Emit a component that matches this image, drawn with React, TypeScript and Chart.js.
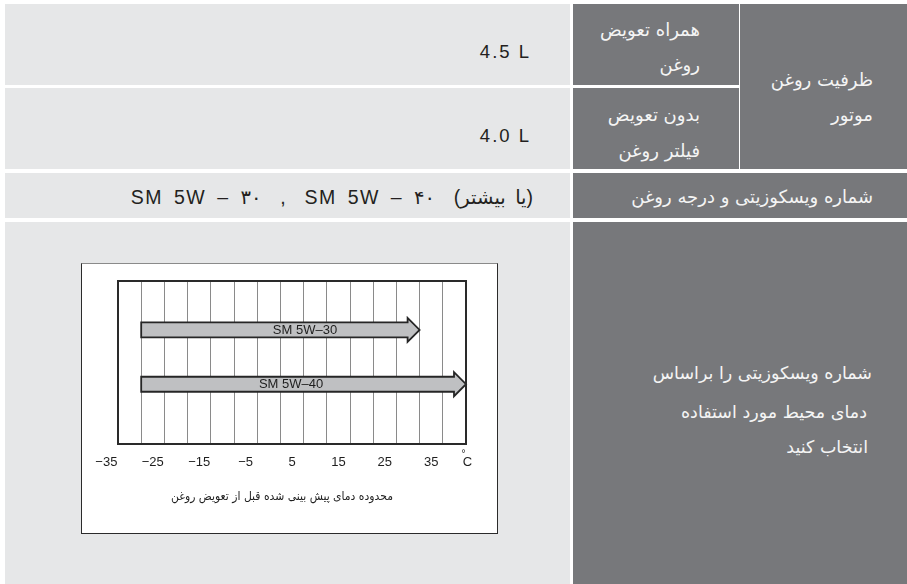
import React, { useEffect, useRef } from "react";
import { Chart, registerables } from "chart.js";

Chart.register(...registerables);

// ---- chart data ----
const grades: string[] = ["SM 5W–30", "SM 5W–40"];
const startTemp: number[] = [-27.5, -27.5];
const endTemp: number[] = [32.5, 42.5];
const rowPos: number[] = [0.26, 0.66];
const labelTemp: number[] = [7.8, 4.8];
const gridTemps: number[] = [-27.5, -22.5, -17.5, -12.5, -7.5, -2.5, 2.5, 7.5, 12.5, 17.5, 22.5, 27.5, 32.5, 37.5];
const tickTemps: number[] = [-35, -25, -15, -5, 5, 15, 25, 35];
const tickLabels: string[] = ["−35", "−25", "−15", "−5", "5", "15", "25", "35"];
const unitTemp = 42.5;
const axisMin = -32.5;
const axisMax = 42.5;
const caption = "محدوده دمای پیش بینی شده قبل از تعویض روغن";

// ---- table text ----
const capacityWith = "4.5 L";
const capacityWithout = "4.0 L";
const gradeText = "SM 5W – ۳۰  ,  SM 5W – ۴۰  (یا بیشتر)";

const LIGHT = "#e6e7e8";
const DARK = "#77787b";
const PERSIAN = '"DejaVu Sans", sans-serif';
const LATIN = '"Liberation Sans", Arial, "DejaVu Sans", sans-serif';

const arrowPlugin = {
  id: "arrows",
  afterDatasetsDraw(chart: any) {
    const ctx = chart.ctx;
    const meta = chart.getDatasetMeta(0);
    const xs = chart.scales.x;
    ctx.save();
    meta.data.forEach((el: any, i: number) => {
      const { x, y, base, height } = el.getProps(["x", "y", "base", "height"], true);
      const left = Math.min(x, base);
      const tip = Math.max(x, base);
      const hh = height / 2;
      const headLen = 12;
      const headHalf = hh + 4.5;
      const hb = tip - headLen;
      ctx.beginPath();
      ctx.moveTo(left, y - hh);
      ctx.lineTo(hb, y - hh);
      ctx.lineTo(hb, y - headHalf);
      ctx.lineTo(tip, y);
      ctx.lineTo(hb, y + headHalf);
      ctx.lineTo(hb, y + hh);
      ctx.lineTo(left, y + hh);
      ctx.closePath();
      ctx.fillStyle = "#bfc0c2";
      ctx.fill();
      ctx.lineWidth = 1.8;
      ctx.strokeStyle = "#262626";
      ctx.lineJoin = "miter";
      ctx.stroke();
      ctx.fillStyle = "#1e1e1e";
      ctx.font = '13px "Liberation Sans", Arial, sans-serif';
      ctx.textAlign = "center";
      ctx.textBaseline = "middle";
      ctx.fillText(grades[i], xs.getPixelForValue(labelTemp[i]), y + 0.5);
    });
    ctx.restore();
  },
  afterDraw(chart: any) {
    const ctx = chart.ctx;
    const a = chart.chartArea;
    const xs = chart.scales.x;
    ctx.save();
    ctx.lineWidth = 2;
    ctx.strokeStyle = "#2a2a2a";
    ctx.strokeRect(a.left, a.top, a.right - a.left, a.bottom - a.top);
    ctx.fillStyle = "#1e1e1e";
    ctx.font = '13px "Liberation Sans", Arial, sans-serif';
    ctx.textAlign = "center";
    ctx.textBaseline = "middle";
    tickTemps.forEach((t, i) => {
      ctx.fillText(tickLabels[i], xs.getPixelForValue(t), a.bottom + 18);
    });
    const ux = xs.getPixelForValue(unitTemp);
    ctx.fillText("C", ux + 1.5, a.bottom + 18);
    ctx.font = '10px "Liberation Sans", Arial, sans-serif';
    ctx.fillText("°", ux - 2.5, a.bottom + 10);
    ctx.font = '12px "DejaVu Sans Condensed", "DejaVu Sans", sans-serif';
    ctx.direction = "rtl";
    ctx.textAlign = "center";
    ctx.fillText(caption, (a.left + a.right) / 2 - 10, a.bottom + 53);
    ctx.restore();
  },
};

function OilChart() {
  const ref = useRef<HTMLCanvasElement | null>(null);
  useEffect(() => {
    if (!ref.current) return;
    const chart = new Chart(ref.current, {
      type: "bar",
      data: {
        datasets: [
          {
            data: grades.map((g, i) => ({ x: [startTemp[i], endTemp[i]], y: rowPos[i] })) as any,
            backgroundColor: "rgba(0,0,0,0)",
            borderWidth: 0,
            barThickness: 15,
          },
        ],
      },
      options: {
        indexAxis: "y",
        animation: false,
        responsive: false,
        devicePixelRatio: 1,
        events: [],
        layout: { padding: { left: 36, right: 31, top: 17, bottom: 89 } },
        plugins: { legend: { display: false }, tooltip: { enabled: false } },
        scales: {
          x: {
            type: "linear",
            min: axisMin,
            max: axisMax,
            afterBuildTicks: (s: any) => {
              s.ticks = gridTemps.map((v) => ({ value: v }));
            },
            ticks: { display: false },
            grid: { color: "#8a8a8a", lineWidth: 1, drawTicks: false },
            border: { display: false },
          },
          y: { type: "linear", min: 0, max: 1, reverse: true, display: false },
        },
      } as any,
      plugins: [arrowPlugin],
    });
    return () => chart.destroy();
  }, []);
  return <canvas ref={ref} width={415} height={269} style={{ display: "block", width: 415, height: 269 }} />;
}

function Cell({ l, t, w, h, bg }: { l: number; t: number; w: number; h: number; bg: string }) {
  return <div style={{ position: "absolute", left: l, top: t, width: w, height: h, background: bg }} />;
}

function Line({
  right,
  cy,
  text,
  size,
  color,
  font,
  ls = 0,
  ws = 0,
  dir = "rtl",
}: {
  right: number;
  cy: number;
  text: string;
  size: number;
  color: string;
  font: string;
  ls?: number;
  ws?: number;
  dir?: string;
}) {
  const h = 30;
  return (
    <div
      dir={dir as any}
      style={{
        position: "absolute",
        right: 907 - right,
        top: cy - h / 2,
        height: h,
        lineHeight: h + "px",
        fontSize: size,
        fontFamily: font,
        color,
        letterSpacing: ls,
        wordSpacing: ws,
        whiteSpace: "pre",
        textAlign: "right",
      }}
    >
      {text}
    </div>
  );
}

export default function App() {
  const W = "#f4f4f4";
  const K = "#231f20";
  const P = 18;
  return (
    <div style={{ position: "fixed", left: 0, top: 0, width: 907, height: 584, background: "#fff", overflow: "hidden" }}>
      <Cell l={5} t={4} w={565} h={81} bg={LIGHT} />
      <Cell l={5} t={88} w={565} h={81} bg={LIGHT} />
      <Cell l={5} t={173} w={565} h={45} bg={LIGHT} />
      <Cell l={5} t={222} w={565} h={362} bg={LIGHT} />
      <Cell l={573} t={4} w={165.5} h={81} bg={DARK} />
      <Cell l={573} t={88} w={165.5} h={81} bg={DARK} />
      <Cell l={740} t={4} w={167} h={165} bg={DARK} />
      <Cell l={573} t={173} w={334} h={45} bg={DARK} />
      <Cell l={573} t={222} w={334} h={362} bg={DARK} />

      <Line right={531} cy={52} text={capacityWith} size={18.5} color={K} font={LATIN} ls={2} dir="ltr" />
      <Line right={531} cy={135.5} text={capacityWithout} size={18.5} color={K} font={LATIN} ls={2} dir="ltr" />
      <Line right={533} cy={197} text={gradeText} size={19.5} color={K} font={LATIN} ls={1.5} ws={4} dir="ltr" />

      <Line right={700} cy={30} text="همراه تعویض" size={P} color={W} font={PERSIAN} />
      <Line right={700} cy={65} text="روغن" size={P} color={W} font={PERSIAN} />
      <Line right={700} cy={115} text="بدون تعویض" size={P} color={W} font={PERSIAN} />
      <Line right={700} cy={151} text="فیلتر روغن" size={P} color={W} font={PERSIAN} />
      <Line right={873} cy={80} text="ظرفیت روغن" size={P} color={W} font={PERSIAN} />
      <Line right={873} cy={115} text="موتور" size={P} color={W} font={PERSIAN} />
      <Line right={873} cy={197} text="شماره ویسکوزیتی و درجه روغن" size={P} color={W} font={PERSIAN} />
      <Line right={872} cy={373} text="شماره ویسکوزیتی را براساس" size={17.5} color={W} font={PERSIAN} />
      <Line right={867} cy={412} text="دمای محیط مورد استفاده" size={17.5} color={W} font={PERSIAN} />
      <Line right={868} cy={447} text="انتخاب کنید" size={17.5} color={W} font={PERSIAN} />

      <div
        style={{
          position: "absolute",
          left: 81,
          top: 263,
          width: 415,
          height: 269,
          background: "#fff",
          border: "1px solid #2b2b2b",
          borderTopColor: "#8a8a8a",
        }}
      >
        <OilChart />
      </div>
    </div>
  );
}
